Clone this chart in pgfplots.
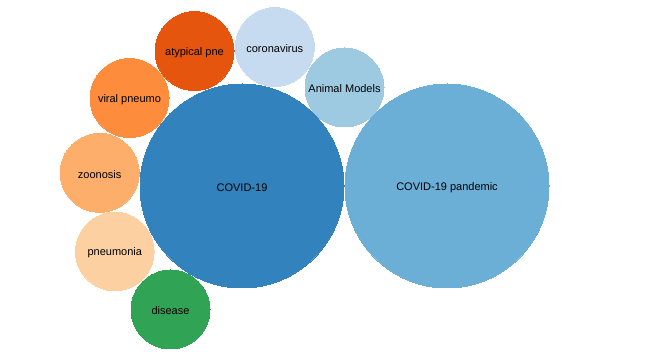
\documentclass[border=0pt]{standalone}
\usepackage{pgfplots}
\pgfplotsset{compat=1.18}
\usepackage{fontspec}
\setmainfont{Liberation Sans}
\definecolor{cA}{HTML}{3182BD}
\definecolor{cB}{HTML}{6BAED6}
\definecolor{cC}{HTML}{9ECAE1}
\definecolor{cD}{HTML}{C6DBEF}
\definecolor{cE}{HTML}{E6550D}
\definecolor{cF}{HTML}{FD8D3C}
\definecolor{cG}{HTML}{FDAE6B}
\definecolor{cH}{HTML}{FDD0A2}
\definecolor{cI}{HTML}{31A354}
\pgfplotsset{
  bub/.style n args={3}{only marks, mark=*, mark size=#1, color=#2,
    mark options={fill=#2, draw=#2, line width=0pt},
    nodes near coords={#3},
    every node near coord/.append style={anchor=center, text=black, yshift=-1.5pt,
      font=\fontsize{11}{13}\selectfont}},
}
\begin{document}
\begin{tikzpicture}
\begin{axis}[
  x=1pt, y=1pt,
  xmin=0, xmax=650, ymin=0, ymax=352,
  hide axis, clip=false, scale only axis,
]
\addplot[draw=none, mark=none] coordinates {(0,0) (650,352)};
\addplot[bub={102}{cA}{COVID-19}] coordinates {(242,166)};
\addplot[bub={102}{cB}{COVID-19 pandemic}] coordinates {(447,166)};
\addplot[bub={39.5}{cC}{Animal Models}] coordinates {(344.5,264.5)};
\addplot[bub={39.5}{cD}{coronavirus}] coordinates {(274.8,305)};
\addplot[bub={39.5}{cE}{atypical pne}] coordinates {(194.5,301)};
\addplot[bub={39.5}{cF}{viral pneumo}] coordinates {(129.5,254)};
\addplot[bub={39.5}{cG}{zoonosis}] coordinates {(99.7,179.2)};
\addplot[bub={39.3}{cH}{pneumonia}] coordinates {(114.8,100.5)};
\addplot[bub={39.5}{cI}{disease}] coordinates {(170.5,42.5)};
\end{axis}
\end{tikzpicture}
\end{document}
